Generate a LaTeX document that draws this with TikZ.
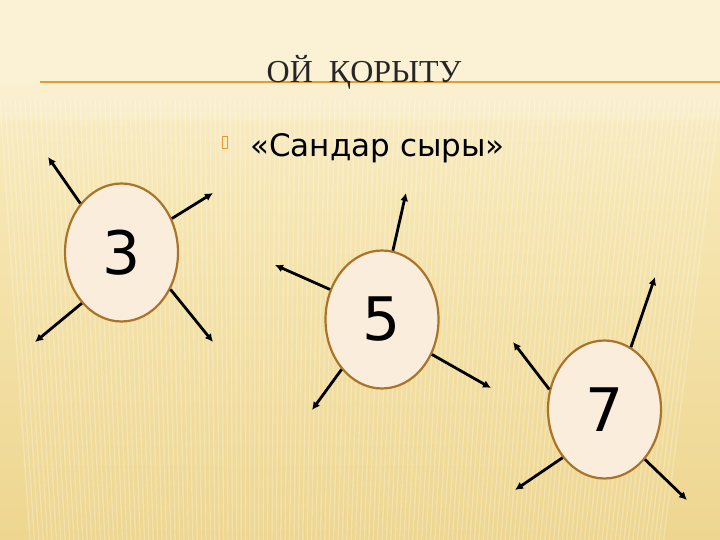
\documentclass[tikz,border=0pt]{standalone}
\usepackage{fontspec}
\setmainfont{DejaVu Sans}
\newfontfamily\titlefont[Script=Cyrillic]{Liberation Serif}
\newfontfamily\bodyfont[Script=Cyrillic]{DejaVu Sans}
\usetikzlibrary{shapes.geometric,arrows.meta}
\definecolor{bgtop}{HTML}{FBF2D6}
\definecolor{bgmid}{HTML}{F6E6B2}
\definecolor{bgbot}{HTML}{EED690}
\definecolor{rule}{HTML}{E39B32}
\definecolor{eggfill}{HTML}{FBEDDC}
\definecolor{eggline}{HTML}{AA7428}
\tikzset{
  egg/.style={ellipse, draw=eggline, line width=2.2pt, fill=eggfill,
    minimum width=113pt, minimum height=138pt, inner sep=0pt,
    font=\bodyfont\fontsize{60}{60}\selectfont, text=black},
  ray/.style={draw=black, line width=2.8pt, -{Latex[length=8pt,width=8pt]}}
}
\begin{document}
\begin{tikzpicture}[x=1pt,y=-1pt]
\useasboundingbox (0,0) rectangle (720,540);
\shade[top color=bgtop, bottom color=bgmid] (0,0) rectangle (720,200);
\shade[top color=bgmid, bottom color=bgbot] (0,200) rectangle (720,540);
\fill[bgtop] (0,0) rectangle (720,70);
\shade[top color=bgtop, bottom color=bgtop!60!bgmid] (0,70) rectangle (720,120);
\foreach \i in {0,5,...,720} {
  \draw[white, opacity=0.25, line width=1.4pt] (\i,100) -- (\i-0.12*\i+30,540);
}
% title and rule
\draw[rule, line width=2pt] (40,82) -- (720,82);
\node[anchor=base, inner sep=0pt, font=\titlefont\fontsize{32}{32}\selectfont, text=black!85] (title) at (364,83) {ОЙ\ \ ҚОРЫТУ};
% bullet
\draw[rule, line width=0.6pt] (222,136) rectangle (227,148);
\node[anchor=base west, inner sep=0pt, font=\bodyfont\fontsize{31}{31}\selectfont, text=black] (sub) at (250,157) {«Сандар сыры»};
% eggs
\node[egg] (e3) at (121.5,252.5) {3};
\node[egg] (e5) at (382,319.5) {5};
\node[egg] (e7) at (604.5,409.5) {7};
% free ends
\coordinate (a1) at (48,157);
\coordinate (a2) at (213,193);
\coordinate (a3) at (35,342);
\coordinate (a4) at (213,342);
\coordinate (b1) at (406,193);
\coordinate (b2) at (275,265);
\coordinate (b3) at (312,410);
\coordinate (b4) at (491,388);
\coordinate (c1) at (655,277);
\coordinate (c2) at (513,342);
\coordinate (c3) at (515,490);
\coordinate (c4) at (687,500);
% rays
\draw[ray] (e3.130) -- (a1);
\draw[ray] (e3.34) -- (a2);
\draw[ray] (e3.232) -- (a3);
\draw[ray] (e3.-37) -- (a4);
\draw[ray] (e5.81) -- (b1);
\draw[ray] (e5.150) -- (b2);
\draw[ray] (e5.231) -- (b3);
\draw[ray] (e5.-35) -- (b4);
\draw[ray] (e7.67) -- (c1);
\draw[ray] (e7.160) -- (c2);
\draw[ray] (e7.229) -- (c3);
\draw[ray] (e7.-51) -- (c4);
\end{tikzpicture}
\end{document}
